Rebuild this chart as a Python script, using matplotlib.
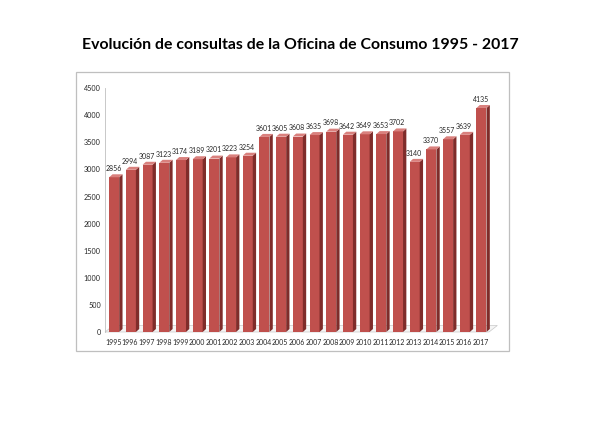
import matplotlib
matplotlib.use("Agg")
import matplotlib.pyplot as plt
from matplotlib.patches import Polygon, Rectangle

years = [str(y) for y in range(1995, 2018)]
consultas = [2856, 2994, 3087, 3123, 3174, 3189, 3201, 3223, 3254, 3601, 3605,
             3608, 3635, 3698, 3642, 3649, 3653, 3702, 3140, 3370, 3557, 3639, 4135]
yticks = list(range(0, 4501, 500))

FRONT = "#C0504D"
SIDE = "#7F2C2A"
TOP = "#D9807D"

plt.rcParams["font.family"] = ["Lato", "DejaVu Sans"]

fig = plt.figure(figsize=(6, 4.24), dpi=100)
fig.patch.set_facecolor("white")

# chart area frame
fig.patches.append(Rectangle((0.127, 0.172), 0.722, 0.658, transform=fig.transFigure,
                             facecolor="none", edgecolor="#BFBFBF", lw=0.9, zorder=0))

fig.text(0.5, 0.893, "Evolución de consultas de la Oficina de Consumo 1995 - 2017",
         ha="center", va="center", fontsize=11.4, fontweight="bold", color="black")

ax = fig.add_axes([0.175, 0.217, 0.64, 0.575])
ax.set_zorder(2)
ax.set_xlim(-0.5, 22.5)
ax.set_ylim(0, 4500)
ax.patch.set_alpha(0)

w = 0.6
dx, dy = 0.2, 55

# floor
ax.add_patch(Polygon([(-0.5, 0), (22.5, 0), (23.0, 120), (0.0, 120)], closed=True,
                     facecolor="#F5F5F5", edgecolor="#C8C8C8", lw=0.5, clip_on=False, zorder=1))

for i, v in enumerate(consultas):
    x0 = i - w / 2 + 0.05
    x1 = x0 + w
    ax.add_patch(Rectangle((x0, 0), w, v, facecolor=FRONT, edgecolor="none", zorder=3))
    ax.add_patch(Polygon([(x1, 0), (x1 + dx, dy), (x1 + dx, v + dy), (x1, v)],
                         closed=True, facecolor=SIDE, edgecolor="none", zorder=3, clip_on=False))
    ax.add_patch(Polygon([(x0, v), (x1, v), (x1 + dx, v + dy), (x0 + dx, v + dy)],
                         closed=True, facecolor=TOP, edgecolor="none", zorder=3, clip_on=False))
    ax.text(i, v + dy + 40, str(v), ha="center", va="bottom", fontsize=5, color="#262626",
            zorder=4)

ax.set_xticks(range(len(years)))
ax.set_xticklabels(years, fontsize=5, color="#262626")
ax.set_yticks(yticks)
ax.set_yticklabels([str(t) for t in yticks], fontsize=5.2, color="#262626")
ax.tick_params(length=0, pad=3)
ax.tick_params(axis="x", pad=5)

for s in ["top", "right", "bottom"]:
    ax.spines[s].set_visible(False)
ax.spines["left"].set_color("#BFBFBF")
ax.spines["left"].set_linewidth(0.6)

fig.savefig("out.png", dpi=100)
